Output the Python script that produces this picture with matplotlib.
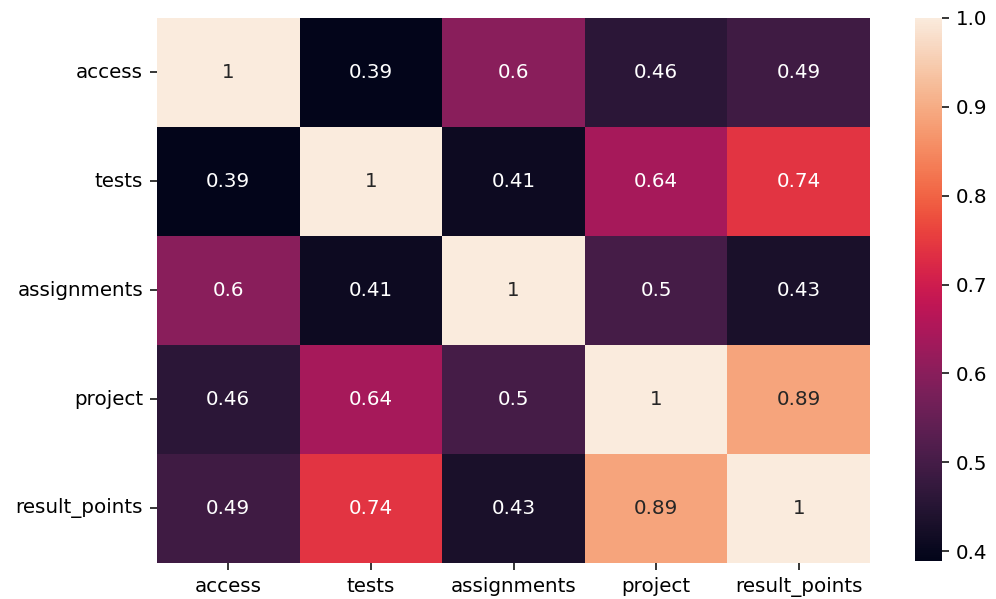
import matplotlib
matplotlib.use("Agg")
import matplotlib.pyplot as plt
import seaborn as sns
import pandas as pd

labels = ["access", "tests", "assignments", "project", "result_points"]
access = [1.0, 0.389, 0.60, 0.46, 0.49]
tests = [0.389, 1.0, 0.41, 0.64, 0.74]
assignments = [0.60, 0.41, 1.0, 0.50, 0.43]
project = [0.46, 0.64, 0.50, 1.0, 0.89]
result_points = [0.49, 0.74, 0.43, 0.89, 1.0]

df = pd.DataFrame([access, tests, assignments, project, result_points],
                  index=labels, columns=labels)

fs = 14.3
fig = plt.figure(figsize=(9.96, 5.99), dpi=100)
ax = fig.add_axes([0.1576, 0.0601, 0.716, 0.910])
cax = fig.add_axes([0.9187, 0.0634, 0.0271, 0.9066])
sns.heatmap(df, annot=True, ax=ax, cbar_ax=cax, annot_kws={"size": fs})
ax.tick_params(labelsize=fs, length=5, width=1.1, pad=5)
plt.setp(ax.get_yticklabels(), rotation=0)
cax.tick_params(labelsize=fs, length=5, width=1.1, pad=5)
fig.savefig("out.png", dpi=100)
